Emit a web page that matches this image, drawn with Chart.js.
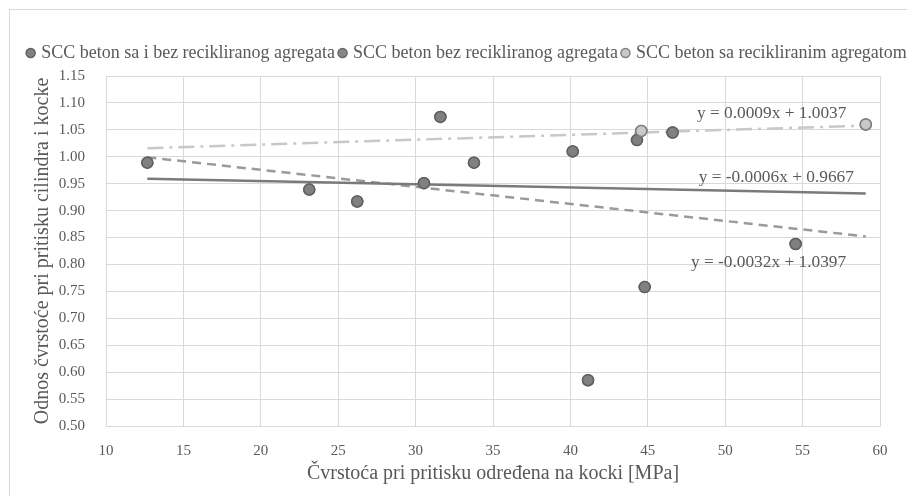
<!DOCTYPE html>
<html>
<head>
<meta charset="utf-8">
<script src="https://cdn.jsdelivr.net/npm/chart.js@4.4.0/dist/chart.umd.min.js"></script>
<style>
  body { margin: 0; background: #fff; }
  #okvir { position: absolute; left: 9px; top: 9px; width: 898px; height: 487px; border-left: 1px solid #d9d9d9; border-top: 1px solid #d9d9d9; box-sizing: border-box; }
  #omot { position: absolute; left: 0; top: 0; width: 907px; height: 496px; }
</style>
</head>
<body>
<div id="okvir"></div>
<div id="omot"><canvas id="grafik"></canvas></div>
<script>
// podaci ocitani sa slike
const serije = ["SCC beton sa i bez recikliranog agregata", "SCC beton bez recikliranog agregata", "SCC beton sa recikliranim agregatom"];

const sveX = [12.67, 23.13, 26.23, 30.54, 31.60, 33.77, 40.15, 41.14, 44.30, 44.58, 44.80, 46.60, 54.55, 59.08];
const sveY = [0.989, 0.939, 0.917, 0.951, 1.074, 0.989, 1.010, 0.585, 1.031, 1.048, 0.758, 1.045, 0.838, 1.060];

const bezX = [12.67, 23.13, 26.23, 30.54, 31.60, 33.77, 40.15, 41.14, 44.30, 44.80, 46.60, 54.55];
const bezY = [0.989, 0.939, 0.917, 0.951, 1.074, 0.989, 1.010, 0.585, 1.031, 0.758, 1.045, 0.838];

const saX = [44.58, 59.08];
const saY = [1.048, 1.060];

// krajevi linija trenda
const trendX = [12.67, 59.08];
const trendSveY = [0.959, 0.932];
const trendBezY = [0.999, 0.852];
const trendSaY = [1.016, 1.058];

const jednacine = ["y = -0.0006x + 0.9667", "y = -0.0032x + 1.0397", "y = 0.0009x + 1.0037"];
const jedX = [53.3, 52.8, 53.0];
const jedY = [0.962, 0.803, 1.081];

const xNaslov = "Čvrstoća pri pritisku određena na kocki [MPa]";
const yNaslov = "Odnos čvrstoće pri pritisku cilindra i kocke";

function tacke(xs, ys) {
  return xs.map(function (x, i) { return { x: x, y: ys[i] }; });
}

Chart.defaults.font.family = '"Liberation Serif", "Times New Roman", serif';
Chart.defaults.color = "#595959";

// pomjera legendu i dodaje razmak ispod nje
const legendaPomak = {
  id: "legendaPomak",
  beforeInit(chart) {
    const leg = chart.legend;
    if (!leg) return;
    const fit0 = leg.fit;
    leg.fit = function () {
      fit0.call(this);
      this.height += 4;
    };
    const draw0 = leg.draw;
    leg.draw = function () {
      const c = this.ctx;
      c.save();
      c.translate(14.5, 0);
      draw0.apply(this, arguments);
      c.restore();
    };
  }
};

// jednacine trenda
const natpisi = {
  id: "natpisi",
  afterDatasetsDraw(chart) {
    const c = chart.ctx;
    const sx = chart.scales.x;
    const sy = chart.scales.y;
    c.save();
    c.font = '17.33px "Liberation Serif", "Times New Roman", serif';
    c.fillStyle = "#595959";
    c.textAlign = "center";
    c.textBaseline = "middle";
    for (let i = 0; i < jednacine.length; i++) {
      c.fillText(jednacine[i], sx.getPixelForValue(jedX[i]), sy.getPixelForValue(jedY[i]));
    }
    c.restore();
  }
};

const ctx = document.getElementById("grafik");

new Chart(ctx, {
  type: "scatter",
  data: {
    datasets: [
      {
        label: serije[0],
        data: tacke(sveX, sveY),
        backgroundColor: "#808080",
        borderColor: "#606060",
        borderWidth: 1.5,
        pointRadius: 5.5,
        order: 2
      },
      {
        label: serije[1],
        data: tacke(bezX, bezY),
        backgroundColor: "#888888",
        borderColor: "#686868",
        borderWidth: 1.5,
        pointRadius: 5.5,
        order: 3
      },
      {
        label: serije[2],
        data: tacke(saX, saY),
        backgroundColor: "#c8c8c8",
        borderColor: "#808080",
        borderWidth: 1.5,
        pointRadius: 5.5,
        order: 1
      },
      {
        label: "trend1",
        data: tacke(trendX, trendSveY),
        showLine: true,
        pointRadius: 0,
        borderColor: "#7a7a7a",
        borderWidth: 2.5,
        order: 10
      },
      {
        label: "trend2",
        data: tacke(trendX, trendBezY),
        showLine: true,
        pointRadius: 0,
        borderColor: "#9a9a9a",
        borderWidth: 2.5,
        borderDash: [9, 6],
        order: 11
      },
      {
        label: "trend3",
        data: tacke(trendX, trendSaY),
        showLine: true,
        pointRadius: 0,
        borderColor: "#c8c8c8",
        borderWidth: 2.5,
        borderDash: [16, 6, 3, 6],
        order: 12
      }
    ]
  },
  options: {
    responsive: true,
    maintainAspectRatio: false,
    animation: false,
    layout: {
      padding: { top: 38, left: 0, right: 0, bottom: 0 }
    },
    plugins: {
      tooltip: { enabled: false },
      legend: {
        position: "top",
        labels: {
          usePointStyle: true,
          pointStyle: "circle",
          boxWidth: 3,
          boxHeight: 6.4,
          padding: 6,
          font: { size: 18 },
          color: "#595959",
          filter: function (item) { return item.datasetIndex < 3; },
          sort: function (a, b) { return a.datasetIndex - b.datasetIndex; }
        }
      }
    },
    scales: {
      x: {
        type: "linear",
        min: 10,
        max: 60,
        ticks: { stepSize: 5, padding: 16, font: { size: 15 }, color: "#595959" },
        grid: { color: "#d9d9d9", drawTicks: false },
        border: { color: "#d9d9d9" },
        title: { display: true, text: xNaslov, font: { size: 20 }, color: "#595959", padding: { top: 0, bottom: 10 } },
        afterFit: function (s) { s.height = 70; }
      },
      y: {
        type: "linear",
        position: "left",
        min: 0.5,
        max: 1.15,
        ticks: {
          stepSize: 0.05,
          padding: 21,
          font: { size: 15 },
          color: "#595959",
          callback: function (v) { return v.toFixed(2); }
        },
        grid: { color: "#d9d9d9", drawTicks: false },
        border: { color: "#d9d9d9" },
        title: { display: true, text: yNaslov, font: { size: 20 }, color: "#595959", padding: { top: 31, bottom: 0 } },
        afterFit: function (s) { s.width = 106; }
      },
      y2: {
        type: "linear",
        position: "right",
        display: true,
        ticks: { display: false },
        grid: { display: false },
        border: { display: false },
        afterFit: function (s) { s.width = 27; }
      }
    }
  },
  plugins: [legendaPomak, natpisi]
});
</script>
</body>
</html>
